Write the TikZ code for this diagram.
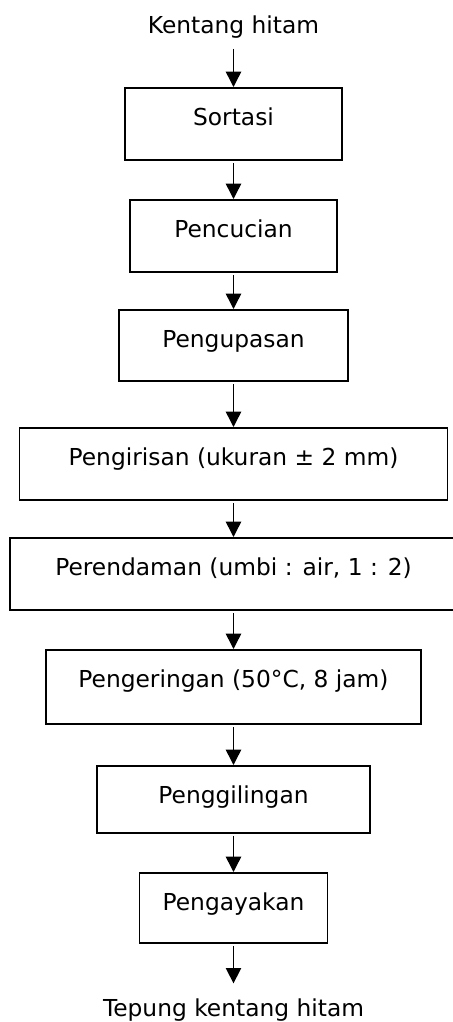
\documentclass[tikz,border=0pt]{standalone}
\usepackage{fontspec}
\setmainfont{DejaVu Sans}
\usetikzlibrary{arrows.meta, positioning}

\begin{document}
\begin{tikzpicture}[
        x=0.75pt, y=-0.75pt,
        font=\fontsize{17.5pt}{21pt}\selectfont,
        stage/.style={
            rectangle,
            draw=black,
            line width=1.4pt,
            anchor=north,
            inner xsep=0pt,
            inner ysep=0pt,
            text height=28pt,
            text depth=25.9pt
        },
        flow/.style={
            -{Triangle[length=11.5pt, width=11.5pt]},
            line width=1.1pt,
            draw=black,
            shorten <=2pt
        },
        endtext/.style={
            anchor=base,
            inner sep=0pt
        }
    ]
    \clip (0,0) rectangle (453,1022);

    \node[endtext] (input) at (233.5,33) {Kentang hitam};
    \node[stage, minimum width=162.75pt] (sortasi) at (233.5,87) {Sortasi};
    \node[stage, minimum width=155.25pt] (pencucian) at (233.5,199) {Pencucian};
    \node[stage, minimum width=171.75pt, text depth=25.1pt] (pengupasan) at (233.5,309) {Pengupasan};
    \node[stage, minimum width=321pt] (pengirisan) at (233.5,427) {Pengirisan (ukuran ± 2 mm)};
    \node[stage, minimum width=335.25pt] (perendaman) at (233.5,537) {Perendaman (umbi : air, 1 : 2)};
    \node[stage, minimum width=281.25pt, text depth=27.4pt] (pengeringan) at (233.5,649) {Pengeringan (50°C, 8 jam)};
    \node[stage, minimum width=204.75pt, text depth=22.1pt] (penggilingan) at (233.5,765) {Penggilingan};
    \node[stage, minimum width=141pt, text depth=24.4pt] (pengayakan) at (233.5,872) {Pengayakan};
    \node[endtext] (output) at (233.5,1016) {Tepung kentang hitam};

    \draw[flow, shorten <=8pt] (input) -- (sortasi);
    \draw[flow] (sortasi) -- (pencucian);
    \draw[flow] (pencucian) -- (pengupasan);
    \draw[flow] (pengupasan) -- (pengirisan);
    \draw[flow] (pengirisan) -- (perendaman);
    \draw[flow] (perendaman) -- (pengeringan);
    \draw[flow] (pengeringan) -- (penggilingan);
    \draw[flow] (penggilingan) -- (pengayakan);
    \draw[flow, shorten >=11pt] (pengayakan) -- (output);
\end{tikzpicture}
\end{document}
